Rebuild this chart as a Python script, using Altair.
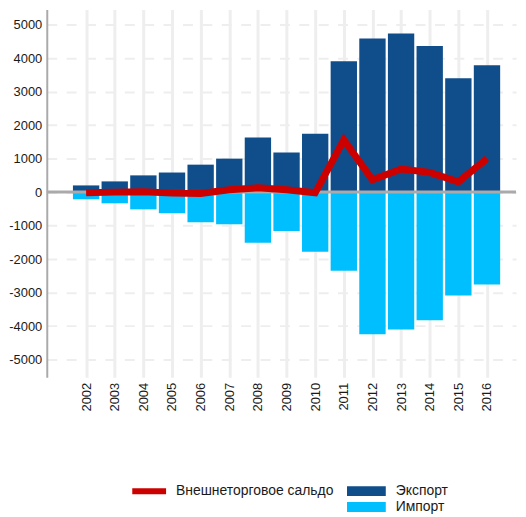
import altair as alt
import pandas as pd

years = list(range(2002, 2017))
export_vals = [200, 320, 500, 585, 820, 1000, 1630, 1180, 1740, 3910, 4590, 4740, 4360, 3400, 3790]
import_vals = [-215, -335, -515, -630, -900, -960, -1515, -1165, -1780, -2345, -4245, -4105, -3830, -3090, -2760]
balance_vals = [-20, 0, 10, -30, -40, 70, 130, 70, -20, 1560, 370, 690, 590, 310, 1000]
y_ticks = [-5000, -4000, -3000, -2000, -1000, 0, 1000, 2000, 3000, 4000, 5000]

bar_names = ["Экспорт", "Импорт"]
bar_colors = ["#104E8B", "#00BFFF"]
line_name = "Внешнеторговое сальдо"
line_color = "#CD0000"

bars_df = pd.DataFrame(
    {"year": years * 2,
     "value": export_vals + import_vals,
     "type": [bar_names[0]] * len(years) + [bar_names[1]] * len(years)}
)
line_df = pd.DataFrame({"year": years, "value": balance_vals, "type": [line_name] * len(years)})
zero_df = pd.DataFrame({"value": [0]})

FONT = "Liberation Sans"

x_scale = alt.Scale(domain=[2000.80, 2016.84], nice=False, zero=False)
y_scale = alt.Scale(domain=[-5531, 5454], nice=False)

x_axis = alt.Axis(
    values=years, labelAngle=270, title=None, domain=False, ticks=False,
    labelFontSize=13, labelFont=FONT, labelColor="#1A1A1A", labelPadding=5,
    grid=True, gridColor="#EEEEEE", gridWidth=3, labelExpr="'' + datum.value",
    labelOverlap=False, tickCount=15,
)
y_axis = alt.Axis(
    values=y_ticks, title=None, ticks=False, domain=True, domainColor="#AAAAAA",
    domainWidth=2, labelFontSize=13, labelFont=FONT, labelColor="#1A1A1A",
    labelPadding=5, grid=True, gridColor="#EEEEEE", gridWidth=2,
    gridDash=[10, 9.5], labelExpr="'' + datum.value", labelOverlap=False,
    tickCount=11,
)

bars = alt.Chart(bars_df).mark_bar(width=26.5).encode(
    x=alt.X("year:Q", scale=x_scale, axis=x_axis),
    y=alt.Y("value:Q", scale=y_scale, axis=y_axis, stack=None),
    color=alt.Color(
        "type:N",
        scale=alt.Scale(domain=bar_names, range=bar_colors),
        legend=alt.Legend(
            title=None, orient="none", legendX=302, legendY=478,
            symbolType="M-1,-0.256H1V0.256H-1Z", symbolSize=1521,
            symbolStrokeWidth=0, clipHeight=13, rowPadding=1,
            labelFontSize=14, labelFont=FONT, labelColor="#1A1A1A",
            labelOffset=10, padding=0,
        ),
    ),
)

zero_rule = alt.Chart(zero_df).mark_rule(color="#AAAAAA", strokeWidth=3).encode(
    y=alt.Y("value:Q", scale=y_scale, axis=y_axis)
)

line = alt.Chart(line_df).mark_line(strokeWidth=7).encode(
    x=alt.X("year:Q", scale=x_scale, axis=x_axis),
    y=alt.Y("value:Q", scale=y_scale, axis=y_axis),
    color=alt.Color(
        "type:N",
        scale=alt.Scale(domain=[line_name], range=[line_color]),
        legend=alt.Legend(
            title=None, orient="none", legendX=83, legendY=478,
            symbolType="stroke", symbolSize=1156, symbolStrokeWidth=6,
            clipHeight=13, labelFontSize=14, labelFont=FONT,
            labelColor="#1A1A1A", labelOffset=7, padding=0,
        ),
    ),
)

chart = (
    alt.layer(bars, zero_rule, line)
    .resolve_scale(color="independent")
    .properties(width=472, height=370, padding={"left": 0, "top": 0, "right": 0, "bottom": 0})
    .configure_view(stroke=None)
)

chart.save("out.html", embed_options={"renderer": "svg", "actions": False})
